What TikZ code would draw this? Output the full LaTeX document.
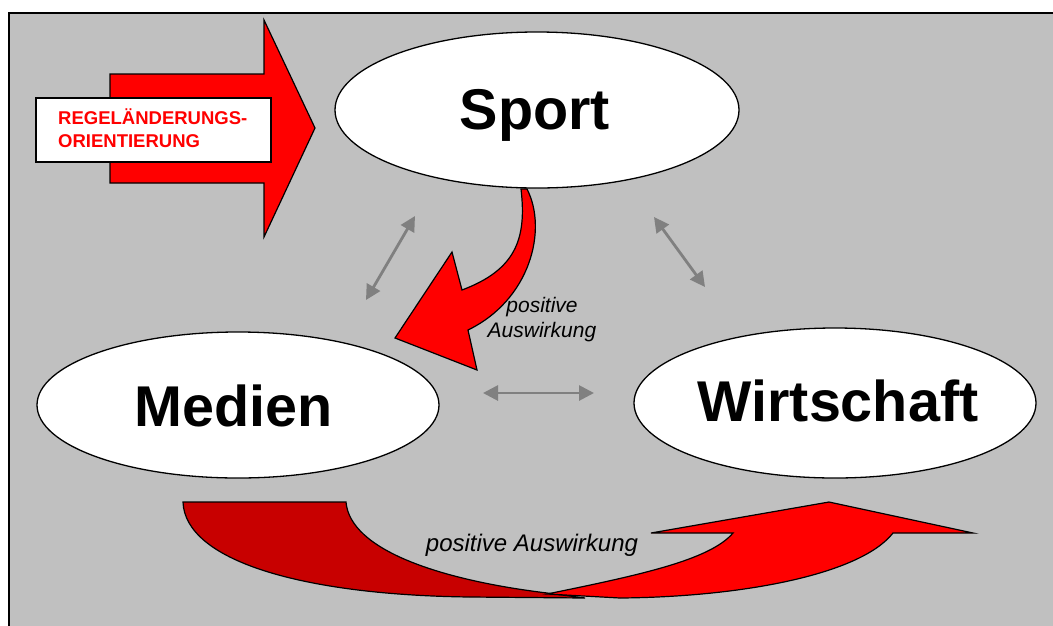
\documentclass[tikz,border=0pt]{standalone}
\usepackage{fontspec}
\setmainfont{Liberation Sans}
\usetikzlibrary{shapes.geometric,arrows.meta}
\definecolor{panelgray}{RGB}{192,192,192}
\definecolor{arrowgray}{RGB}{128,128,128}
\definecolor{brightred}{RGB}{255,0,0}
\definecolor{darkred}{RGB}{200,0,0}
\tikzset{
  field/.style={ellipse, draw=black, line width=1.3pt, fill=white,
    minimum width=#1, minimum height=150pt, inner sep=0pt},
  fieldname/.style={font=\bfseries\fontsize{57.5}{60}\selectfont, anchor=base, inner sep=0pt},
  redshape/.style={fill=brightred, draw=black, line width=1.2pt, line join=miter},
  darkshape/.style={fill=darkred, draw=black, line width=1.2pt},
  link/.style={draw=arrowgray, line width=2.8pt,
    {Triangle[length=15pt,width=15pt]}-{Triangle[length=15pt,width=15pt]}},
  effect/.style={font=\itshape\fontsize{21}{25}\selectfont, inner sep=0pt},
}
\begin{document}
\begin{tikzpicture}[x=1pt,y=-1pt]
\useasboundingbox (0,0) rectangle (1053,625);
% panel
\fill[white] (0,0) rectangle (1053,625);
\fill[panelgray] (9,13) rectangle (1060,630);
\draw[black, line width=2.4pt] (9,630) -- (9,13) -- (1060,13);

% input arrow into the sport field
\draw[redshape] (110,74) -- (264,74) -- (264,20) -- (315,128) -- (264,237) -- (264,183) -- (110,183) -- cycle;
\node[draw=black, line width=1.2pt, fill=white, minimum width=235pt, minimum height=64pt,
      inner sep=0pt] (rulebox) at (153.5,130) {};
\node[text=brightred, font=\bfseries\fontsize{18.5}{23}\selectfont, align=left, anchor=north west,
      inner sep=0pt] (ruletext) at (58,108) {REGELÄNDERUNGS-\\ORIENTIERUNG};

% fields
\node[field=404pt, minimum height=156pt] (sport) at (537,110) {};
\node[field=402pt, minimum height=146pt] (medien) at (238,405) {};
\node[field=402pt, minimum height=150pt] (wirtschaft) at (835,403) {};
\node[fieldname] (sporttxt) at (535,129) {Sport};
\node[fieldname] (medientxt) at (234,426) {Medien};
\node[fieldname] (wirtschafttxt) at (838,421) {Wirtschaft};

% mutual relations
\coordinate (ms1) at (366,300); \coordinate (ms2) at (415,216);
\coordinate (sw1) at (654,217); \coordinate (sw2) at (705,287);
\coordinate (mw1) at (483,393); \coordinate (mw2) at (594,393);
\draw[link] (ms1) -- (ms2);
\draw[link] (sw1) -- (sw2);
\draw[link] (mw1) -- (mw2);

% curved arrow from sport to media
\draw[redshape] (521,189) .. controls (527,240) and (515,270) .. (462,290)
  -- (452,252) -- (395,338) -- (477,370) -- (468,330)
  .. controls (530,300) and (548,230) .. (527,189) -- cycle;
\node[effect, align=center] (eff1) at (542,320) {positive\\Auswirkung};

% ribbon arrow from media to economy
\draw[darkshape] (183,502) -- (346,502) .. controls (350,550) and (440,580) .. (547,593)
  -- (585,598) -- (470,597) .. controls (300,595) and (185,560) .. (183,502) -- cycle;
\draw[redshape] (547,594) .. controls (640,575) and (710,560) .. (733,533)
  -- (651,533) -- (829,502) -- (973,533) -- (893,533)
  .. controls (860,575) and (740,597) .. (620,598) -- cycle;
\node[effect, font=\itshape\fontsize{24}{28}\selectfont] (eff2) at (532,545) {positive Auswirkung};
\end{tikzpicture}
\end{document}
